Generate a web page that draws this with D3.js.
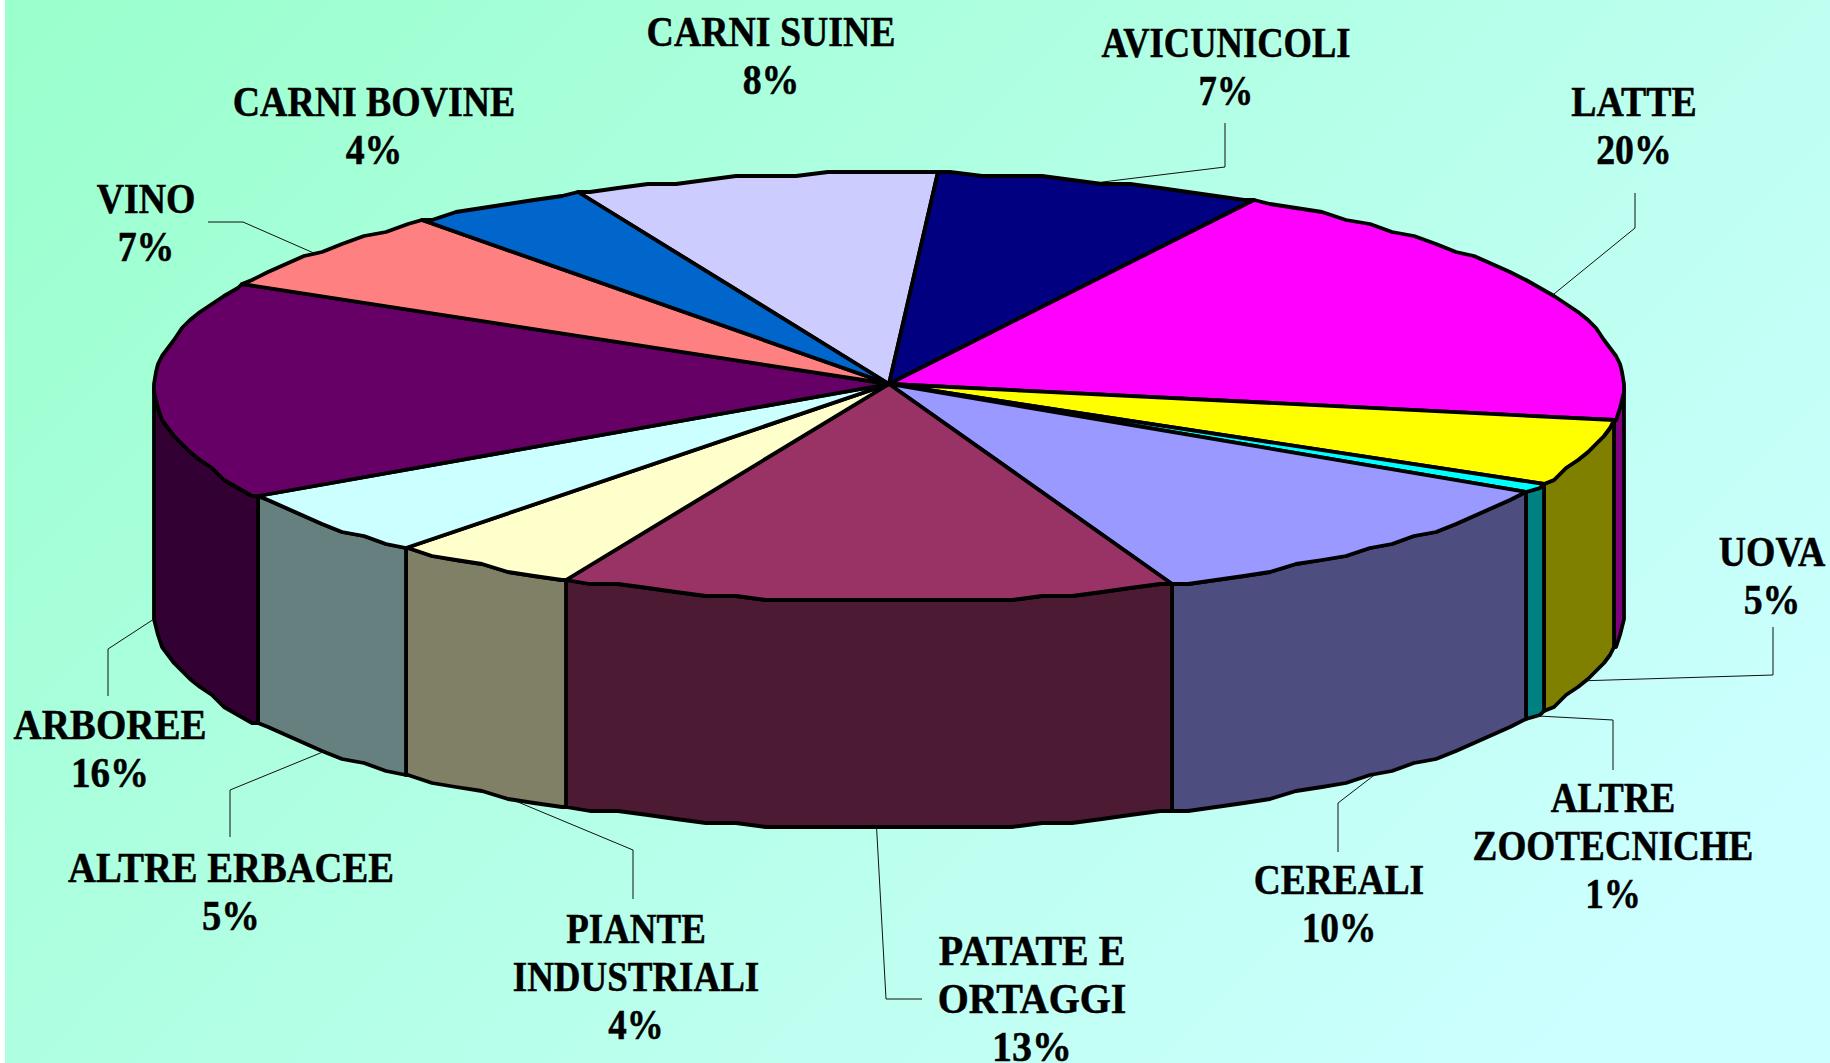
<!DOCTYPE html>
<html><head><meta charset="utf-8">
<script src="https://cdn.jsdelivr.net/npm/d3@7"></script>
<style>html,body{margin:0;padding:0;background:#fff;overflow:hidden}svg{display:block}</style>
</head><body><svg id="c" width="1830" height="1063"></svg>
<script>
// --- data (clockwise from the boundary left of CARNI SUINE) ---
const categories = ["CARNI SUINE","AVICUNICOLI","LATTE","UOVA","ALTRE ZOOTECNICHE","CEREALI","PATATE E ORTAGGI","PIANTE INDUSTRIALI","ALTRE ERBACEE","ARBOREE","VINO","CARNI BOVINE"];
const shares = [8.0,7.2,19.3,4.9,0.8,10.4,13.5,4.2,5.0,16.4,6.2,4.0];   // slice sizes
const percentLabels = ["8%","7%","20%","5%","1%","10%","13%","4%","5%","16%","7%","4%"];
const topColors = ["#CCCCFF","#000080","#FF00FF","#FFFF00","#00FFFF","#9999FF","#993366","#FFFFCC","#CCFFFF","#660066","#FF8080","#0066CC"];
const sideColors = ["#666680","#000040","#800080","#808000","#008080","#4D4D80","#4D1A33","#808066","#668080","#330033","#804040","#003366"];
// --- label layout ---
const labelLines = [["CARNI SUINE"],["AVICUNICOLI"],["LATTE"],["UOVA"],["ALTRE","ZOOTECNICHE"],["CEREALI"],["PATATE E","ORTAGGI"],["PIANTE","INDUSTRIALI"],["ALTRE ERBACEE"],["ARBOREE"],["VINO"],["CARNI BOVINE"]];
const labelCenter = [[771,46],[1226,57],[1634,116],[1772,566],[1613,812],[1339,894],[1032,965],[636,943],[231,882],[110,739],[146,213],[374,116]];
const leaderElbows = [null,[[1225,123],[1225,167]],[[1635,193],[1635,228]],[[1773,627],[1773,675]],[[1613,770],[1613,720]],[[1338,852],[1338,803]],[[922,999],[886,999]],[[633,899],[633,850]],[[230,837],[230,790]],[[108,696],[108,649]],[[208,222],[243,222]],null];
const leaderNudgeDeg = [0,0,0,0,0,0,-0.7,-2,0,0,-0.8,0];
const labelScaleX = [0.9,0.87,0.9,0.9,0.885,0.89,0.95,0.88,0.92,0.93,0.9,0.9];

const W=1830,H=1063,TAU=Math.PI*2,DEG=Math.PI/180;
const svg=d3.select("#c");
const defs=svg.append("defs");
const g=defs.append("linearGradient").attr("id","bg").attr("gradientUnits","userSpaceOnUse")
  .attr("x1",5).attr("y1",0).attr("x2",1300).attr("y2",1300);
g.append("stop").attr("offset",0).attr("stop-color","#99FFCC");
g.append("stop").attr("offset",1).attr("stop-color","#CCFFFF");
svg.append("rect").attr("width",W).attr("height",H).attr("fill","#fff");
svg.append("rect").attr("x",5).attr("width",W-5).attr("height",H).attr("fill","url(#bg)");

const cx=889,cy=387,rx=735,ry=214,depth=227;
const sx=d3.scaleLinear().domain([-1,1]).range([cx-rx,cx+rx]);
const sy=d3.scaleLinear().domain([-1,1]).range([cy-ry,cy+ry]);
const arcs=d3.pie().value(d=>d).sort(null).startAngle(335*DEG).endAngle(335*DEG+TAU)(shares);
const qy=4,qx=2,step=2.4*DEG;
const rim=a=>[Math.round(sx(Math.sin(a))/qx)*qx,Math.round(sy(-Math.cos(a))/qy)*qy];
function rimPts(a0,a1){
  const p=[rim(a0)];
  let k=Math.ceil(a0/step+1e-6);
  while(k*step<a1-1e-6){p.push(rim(k*step));k++;}
  p.push(rim(a1));
  return p;
}
const line=d3.line();
const apex=[sx(0),sy(0)-3];
// walls
const wl=svg.append("g").attr("stroke","#000").attr("stroke-width",3.8).attr("stroke-linejoin","round");
const lo=Math.PI/2,hi=Math.PI*1.5;
arcs.forEach((d,i)=>{
  [0,-1].forEach(t=>{
    const a0=Math.max(d.startAngle+t*TAU,lo),a1=Math.min(d.endAngle+t*TAU,hi);
    if(a1<=a0)return;
    const top=rimPts(a0,a1),bot=top.slice().reverse().map(p=>[p[0],p[1]+depth]);
    wl.append("path").attr("d",line(top.concat(bot))+"Z").attr("fill",sideColors[i]);
  });
});
// top
const tp=svg.append("g").attr("stroke","#000").attr("stroke-width",3.8).attr("stroke-linejoin","round");
arcs.forEach((d,i)=>{
  tp.append("path").attr("d",line([apex].concat(rimPts(d.startAngle,d.endAngle)))+"Z").attr("fill",topColors[i]);
});
// leaders
const ld=svg.append("g").attr("fill","none").attr("stroke","#111").attr("stroke-width",1);
arcs.forEach((d,i)=>{
  if(!leaderElbows[i])return;
  const m=(d.startAngle+d.endAngle)/2+leaderNudgeDeg[i]*DEG, s=Math.sin(m), c=Math.cos(m);
  const anchor=[sx(s),sy(-c)+(c<0.05?depth:0)];
  ld.append("path").attr("d",line(leaderElbows[i].concat([anchor])));
});
// labels
const lh=48;
categories.forEach((n,i)=>{
  const [x,y]=labelCenter[i];
  const lines=labelLines[i].concat([percentLabels[i]]);
  const t=svg.append("g").attr("transform",`translate(${x},${y}) scale(${labelScaleX[i]},1)`)
    .append("text").attr("text-anchor","middle")
    .attr("font-family","'Liberation Serif','Times New Roman',serif").attr("font-weight","bold")
    .attr("font-size",42).attr("fill","#000").attr("stroke","#000").attr("stroke-width",0.5);
  lines.forEach((s,j)=>t.append("tspan").attr("x",0).attr("y",j*lh).text(s));
});
</script></body></html>
